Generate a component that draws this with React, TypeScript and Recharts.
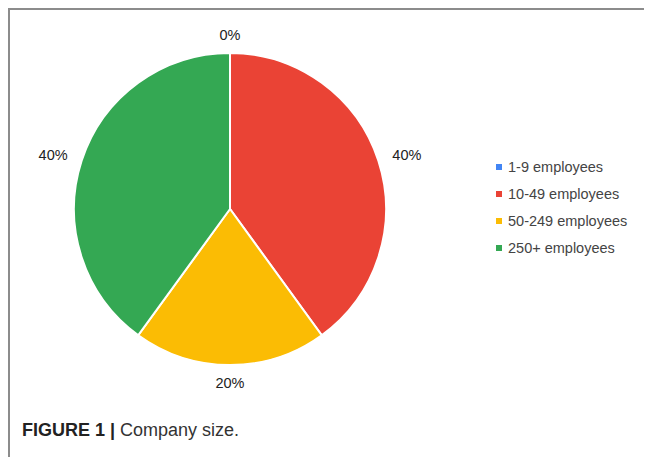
import React from "react"
import { PieChart, Pie, Cell, Legend } from "recharts"

const categories = ["1-9 employees", "10-49 employees", "50-249 employees", "250+ employees"]
const shares = [0, 40, 20, 40]
const colors = ["#4285F4", "#EA4335", "#FBBC04", "#34A853"]

const data = categories.map((name, i) => ({ name, value: shares[i] }))

const RAD = Math.PI / 180

function renderLabel(props: any) {
  const { cx, cy, midAngle, outerRadius, percent } = props
  const r = outerRadius + 18
  const cos = Math.cos(-midAngle * RAD)
  // side labels sit a bit further out, like the text box does in the original
  const x = cx + r * cos + 12 * cos
  const y = cy + r * Math.sin(-midAngle * RAD)
  return (
    <text
      x={x}
      y={y}
      fill="#222"
      fontSize={14.5}
      fontFamily="'Liberation Sans', Arial, sans-serif"
      textAnchor="middle"
      dominantBaseline="central"
    >
      {Math.round(percent * 100)}%
    </text>
  )
}

function renderLegend(props: any) {
  // keep the legend in category order, not the default alphabetical one
  const items = [...(props.payload || [])].sort(
    (a: any, b: any) => categories.indexOf(a.value) - categories.indexOf(b.value)
  )
  return (
    <div>
      {items.map((entry: any, i: number) => (
        <div
          key={i}
          style={{ display: "flex", alignItems: "center", height: 27 }}
        >
          <span
            style={{
              width: 6,
              height: 6,
              background: entry.color,
              marginRight: 6,
              display: "inline-block",
            }}
          />
          <span
            style={{
              fontSize: 14.5,
              color: "#444",
              fontFamily: "'Liberation Sans', Arial, sans-serif",
            }}
          >
            {entry.value}
          </span>
        </div>
      ))}
    </div>
  )
}

export default function App() {
  return (
    <div
      style={{
        position: "relative",
        width: 642,
        height: 447,
        borderTop: "2px solid #8c8c8c",
        borderLeft: "2px solid #8c8c8c",
        background: "#fff",
      }}
    >
      <PieChart
        width={634}
        height={400}
        margin={{ top: 0, right: 0, bottom: 0, left: 0 }}
      >
        <Pie
          data={data}
          dataKey="value"
          nameKey="name"
          cx={220}
          cy={199}
          outerRadius={156}
          startAngle={90}
          endAngle={-270}
          stroke="#fff"
          strokeWidth={2}
          label={renderLabel}
          labelLine={false}
          isAnimationActive={false}
        >
          {data.map((d, i) => (
            <Cell key={d.name} fill={colors[i]} />
          ))}
        </Pie>
        <Legend
          layout="vertical"
          verticalAlign="top"
          align="right"
          content={renderLegend}
          wrapperStyle={{ left: 486, top: 143, width: 160 }}
        />
      </PieChart>
      <div
        style={{
          position: "absolute",
          left: 12,
          top: 410,
          fontSize: 18,
          lineHeight: "20px",
          fontFamily: "'Liberation Sans', Arial, sans-serif",
          color: "#333",
        }}
      >
        <span style={{ fontWeight: "bold", color: "#222" }}>FIGURE 1 | </span>
        Company size.
      </div>
    </div>
  )
}
